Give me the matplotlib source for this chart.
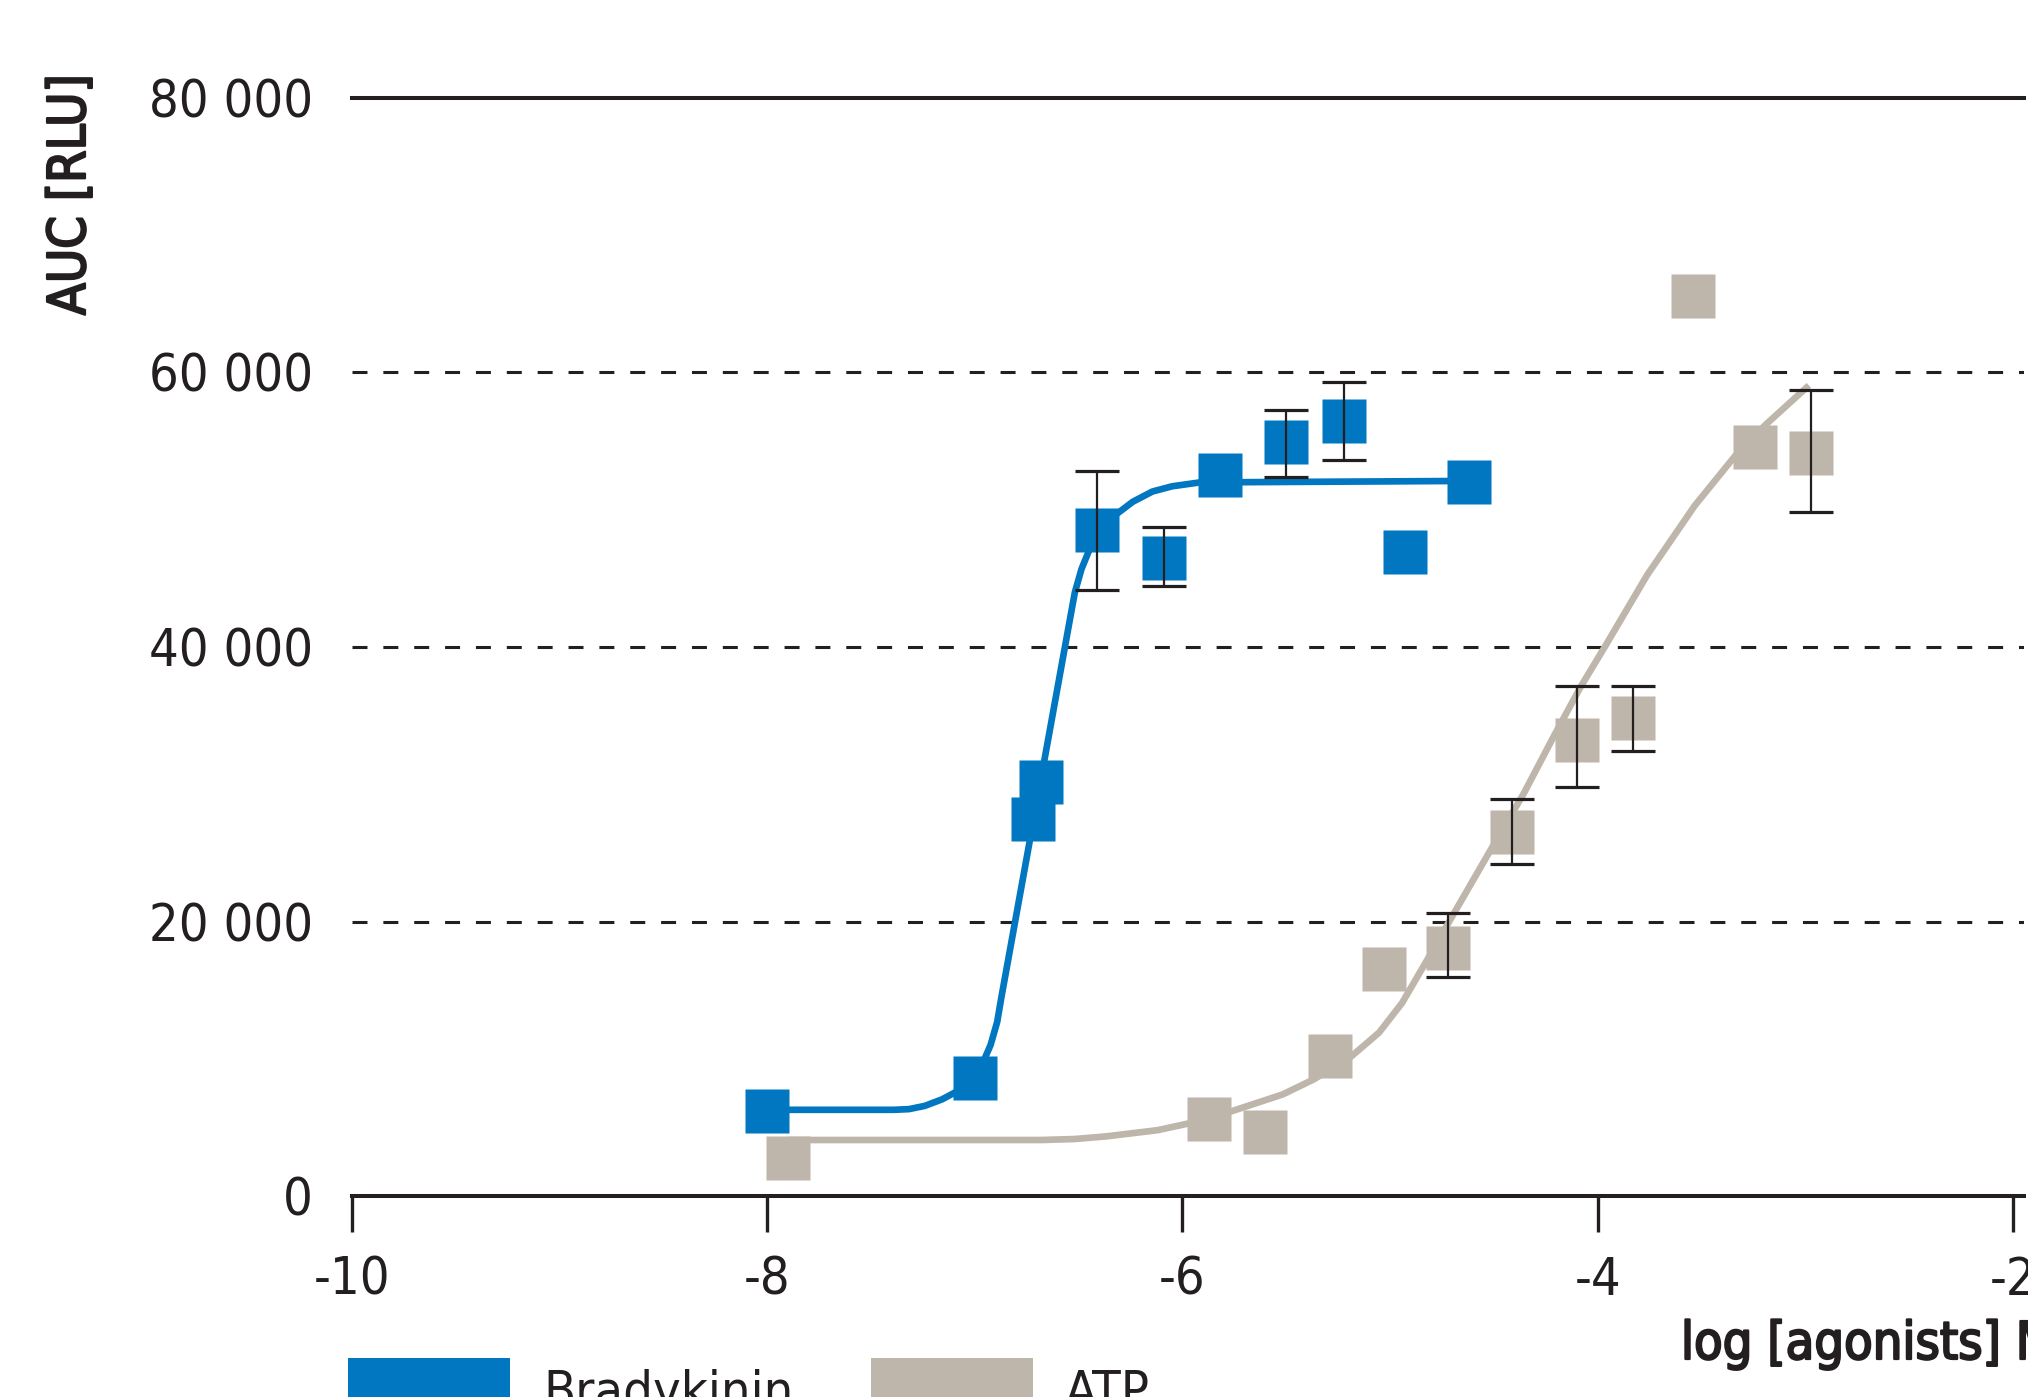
import os
import matplotlib
matplotlib.use('Agg')
import matplotlib.pyplot as plt
import matplotlib.font_manager as fm
import matplotlib.patheffects as pe
from matplotlib.font_manager import FontProperties
from matplotlib.patches import Rectangle

# Bradykinin: log concentration, mean AUC and error bar extents
bk_x = [-8.0, -7.0, -6.72, -6.68, -6.41, -6.09, -5.82, -5.50, -5.22, -4.93, -4.62]
bk_y = [6200, 8600, 27500, 30200, 48500, 46500, 52500, 54900, 56500, 46900, 52000]
bk_lo = [0, 0, 0, 0, 4350, 2050, 0, 2500, 2900, 0, 0]
bk_hi = [0, 0, 0, 0, 4350, 2250, 0, 2400, 2800, 0, 0]

# ATP
atp_x = [-7.90, -5.87, -5.60, -5.29, -5.03, -4.72, -4.41, -4.10, -3.83, -3.54, -3.24, -2.97]
atp_y = [2800, 5600, 4650, 10200, 16550, 18100, 26550, 33250, 34800, 65600, 54600, 54100]
atp_lo = [0, 0, 0, 0, 0, 2180, 2340, 3450, 2350, 0, 0, 4250]
atp_hi = [0, 0, 0, 0, 0, 2510, 2340, 3930, 2350, 0, 0, 4600]

# fitted dose-response curves (vertices)
bk_fit_x = [-8.0, -7.39, -7.317, -7.241, -7.158, -7.076, -7.012, -6.962, -6.924,
            -6.892, -6.873, -6.543, -6.518, -6.486, -6.448, -6.398, -6.322, -6.239,
            -6.144, -6.049, -5.917, -4.62]
bk_fit_y = [6280, 6280, 6330, 6565, 7040, 7700, 8550, 9680, 11000,
            12690, 14390, 41910, 43980, 45680, 47090, 48310, 49630, 50580,
            51330, 51710, 51990, 52100]

atp_fit_x = [-7.90, -6.681, -6.52, -6.363, -6.118, -5.981, -5.768, -5.517, -5.367,
             -5.188, -5.053, -4.942, -4.821, -4.691, -4.507, -4.357, -4.213, -4.082,
             -3.963, -3.761, -3.532, -3.335, -3.188, -2.982]
atp_fit_y = [4080, 4080, 4150, 4350, 4800, 5250, 6150, 7400, 8500,
             10150, 11900, 14060, 17200, 20620, 25430, 29290, 33440, 37090,
             40070, 45250, 50300, 53970, 56230, 59060]

series = ['Bradykinin', 'ATP']
x_ticks = [-10, -8, -6, -4, -2]
x_labels = ['-10', '-8', '-6', '-4', '-2']
y_ticks = [0, 20000, 40000, 60000, 80000]
y_labels = ['0', '20 000', '40 000', '60 000', '80 000']
grid_y = [20000, 40000, 60000]

blue = '#0077C0'
grey = '#BEB5AB'
ink = '#231F20'


def find_font(files):
    paths = {os.path.basename(f.fname): f.fname for f in fm.fontManager.ttflist}
    for name in files:
        if name in paths:
            return paths[name]
    return None


reg_file = find_font(['DejaVuSansCondensed.ttf', 'LiberationSansNarrow-Regular.ttf',
                      'RobotoCondensed-Regular.ttf'])


def font(size):
    if reg_file:
        return FontProperties(fname=reg_file, size=size)
    return FontProperties(family='DejaVu Sans', size=size * 0.88)


# axis titles are a medium weight: regular face with a thin outline
heavy = [pe.withStroke(linewidth=1.6, foreground=ink)]

fig = plt.figure(figsize=(20.28, 13.97), dpi=100)
ax = fig.add_axes([352 / 2028, 201 / 1397, 1672 / 2028, 1098 / 1397])

for g in grid_y:
    ax.axhline(g, color=ink, lw=2.2, dashes=(4.9, 5.2), zorder=1)

ax.plot(bk_fit_x, bk_fit_y, color=blue, lw=4.8, zorder=2,
        solid_capstyle='butt', solid_joinstyle='round')
ax.plot(atp_fit_x, atp_fit_y, color=grey, lw=4.8, zorder=2,
        solid_capstyle='butt', solid_joinstyle='round')

ax.plot(bk_x, bk_y, 's', ms=31.7, color=blue, mec='none', zorder=3)
ax.plot(atp_x, atp_y, 's', ms=31.7, color=grey, mec='none', zorder=3)

for xs, ys, lo, hi in [(bk_x, bk_y, bk_lo, bk_hi), (atp_x, atp_y, atp_lo, atp_hi)]:
    idx = [i for i in range(len(xs)) if lo[i] > 0 or hi[i] > 0]
    ax.errorbar([xs[i] for i in idx], [ys[i] for i in idx],
                yerr=[[lo[i] for i in idx], [hi[i] for i in idx]],
                fmt='none', ecolor=ink, elinewidth=1.6, capsize=15.8, capthick=2.3,
                zorder=4)

ax.set_xlim(-10, -1.946)
ax.set_ylim(0, 80000)
ax.set_xticks(x_ticks)
ax.set_xticklabels(x_labels, fontproperties=font(37.5), color=ink)
ax.set_yticks(y_ticks)
ax.set_yticklabels(y_labels, fontproperties=font(37.5), color=ink)
ax.tick_params(axis='x', length=26, width=2.4, pad=17, color=ink)
ax.tick_params(axis='y', length=0, pad=28)

for s in ['left', 'right']:
    ax.spines[s].set_visible(False)
for s in ['top', 'bottom']:
    ax.spines[s].set_color(ink)
    ax.spines[s].set_linewidth(2.9)
    ax.spines[s].set_zorder(5)

fig.text(71 / 2028, 1 - 74 / 1397, 'AUC [RLU]', rotation=90, ha='center', va='top',
         fontproperties=font(37.5), color=ink, path_effects=heavy)
fig.text(1681 / 2028, 1 - 1320 / 1397, 'log [agonists] M', ha='left', va='top',
         fontproperties=font(37.5), color=ink, path_effects=heavy)

# legend swatches along the bottom edge
for name, col, x0, xt in [(series[0], blue, 348, 543), (series[1], grey, 871, 1065)]:
    fig.add_artist(Rectangle((x0 / 2028, -30 / 1397), 162 / 2028, 69 / 1397,
                             transform=fig.transFigure, color=col, lw=0))
    fig.text(xt / 2028, 1 - 1369 / 1397, name, ha='left', va='top',
             fontproperties=font(37.5), color=ink)

fig.savefig('out.png', dpi=100)
